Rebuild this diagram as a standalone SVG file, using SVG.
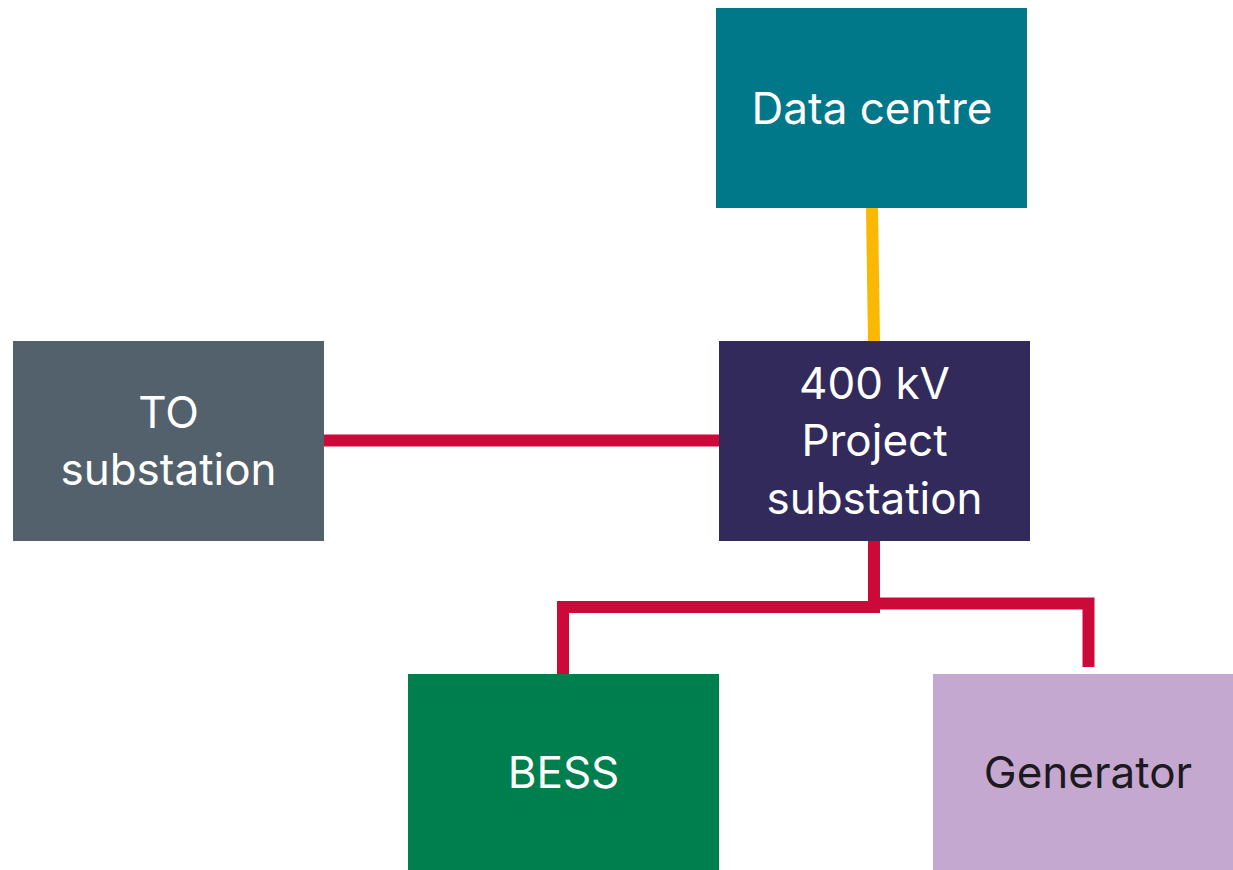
<svg xmlns="http://www.w3.org/2000/svg" width="1233" height="870" viewBox="0 0 1233 870">
<style>
.lbl{font-family:Inter,"Liberation Sans",sans-serif;font-size:44px;fill:#ffffff;text-anchor:middle}
.dark{fill:#1c1a1f}
.red{stroke:#CC0A3A;stroke-width:12;fill:none}
.yel{stroke:#FBB800;stroke-width:12;fill:none}
</style>
<rect width="1233" height="870" fill="#ffffff"/>
<g id="connectors">
<line class="yel" x1="872" y1="207" x2="874" y2="342"/>
<line class="red" x1="323" y1="440.5" x2="720" y2="440.5"/>
<polyline class="red" points="874,540 874,607 563,607 563,675"/>
<polyline class="red" points="874,603.5 1088.5,603.5 1088.5,667"/>
</g>
<g id="data-centre">
<rect x="716" y="8" width="311" height="200" fill="#00788A"/>
<text class="lbl" x="872" y="124">Data centre</text>
</g>
<g id="to-substation">
<rect x="13" y="341" width="311" height="200" fill="#53616C"/>
<text class="lbl" x="168.5" y="428">TO</text>
<text class="lbl" x="168.5" y="485">substation</text>
</g>
<g id="project-substation">
<rect x="719" y="341" width="311" height="200" fill="#332A5C"/>
<text class="lbl" x="874.5" y="399">400 kV</text>
<text class="lbl" x="874.5" y="456">Project</text>
<text class="lbl" x="874.5" y="514">substation</text>
</g>
<g id="bess">
<rect x="408" y="674" width="311" height="196" fill="#007F4E"/>
<text class="lbl" x="563.5" y="788">BESS</text>
</g>
<g id="generator">
<rect x="933" y="674" width="300" height="196" fill="#C5A8D0"/>
<text class="lbl dark" x="1088" y="788">Generator</text>
</g>
</svg>
